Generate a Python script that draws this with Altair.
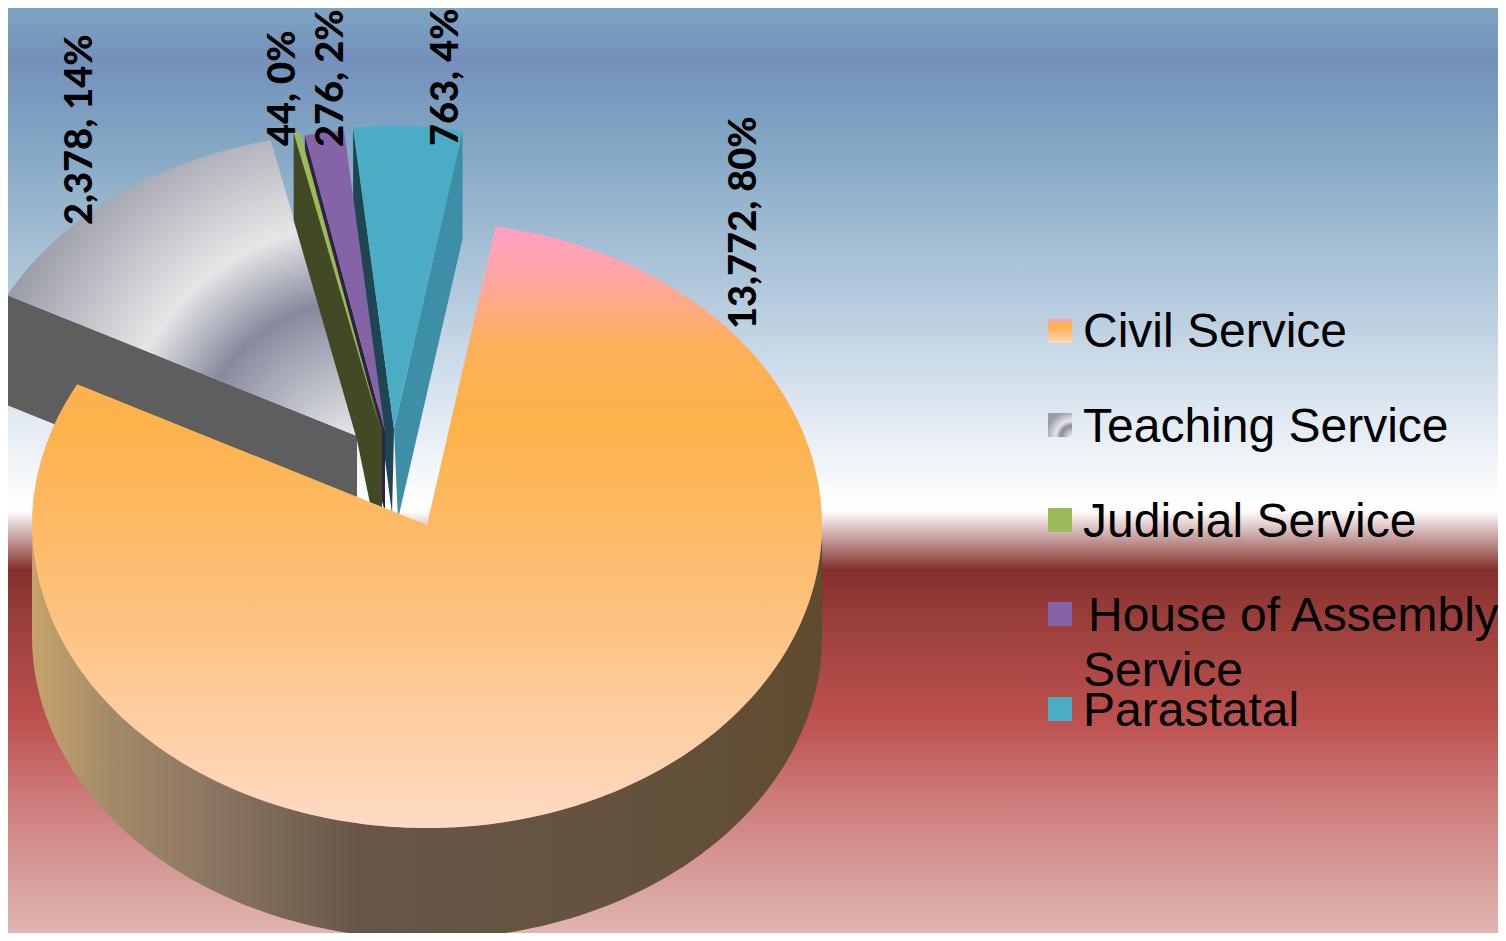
import math
import altair as alt
import pandas as pd

# ---- values ----
categories = ["Civil Service", "Teaching Service", "Judicial Service", "House of Assembly Service", "Parastatal"]
values = [13772, 2378, 44, 276, 763]
value_labels = ["13,772, 80%", "2,378, 14%", "44, 0%", "276, 2%", "763, 4%"]

# ---- layout (reference pixels) ----
M = 8
X1, Y1 = 1498, 933
RX, RY = 395, 303
DEPTH = 111
START = 10.0
centres = [(427, 525), (357, 436), (380, 428), (385, 432), (394, 429)]
label_x = [745, 81, 284, 332, 447]
label_y = [329, 225, 146, 147, 146]
legend_swatch_y = [331, 425, 520, 614, 709]
legend_lines = [("Civil Service", 1083, 347), ("Teaching Service", 1083, 442), ("Judicial Service", 1083, 537),
                ("House of Assembly", 1088, 631), ("Service", 1083, 686), ("Parastatal", 1083, 726)]

X = alt.X("x:Q", scale=alt.Scale(domain=[M, X1], range=[0, X1 - M]), axis=None)
Y = alt.Y("y:Q", scale=alt.Scale(domain=[M, Y1], range=[0, Y1 - M]), axis=None)


def lin(stops, vertical=True):
    return alt.LinearGradient(
        gradient="linear", x1=0, y1=0, x2=0 if vertical else 1, y2=1 if vertical else 0,
        stops=[alt.GradientStop(offset=o, color=c) for o, c in stops])


def radial(cx, cy, r, stops):
    return alt.RadialGradient(
        gradient="radial", x1=cx, y1=cy, r1=0, x2=cx, y2=cy, r2=r,
        stops=[alt.GradientStop(offset=o, color=c) for o, c in stops])


def on_rim(c, deg, drop=0):
    a = math.radians(deg)
    return (c[0] + RX * math.sin(a), c[1] - RY * math.cos(a) + drop)


def arc(c, a0, a1, drop=0):
    n = max(2, int(abs(a1 - a0)) + 2)
    return [on_rim(c, a0 + (a1 - a0) * i / (n - 1), drop) for i in range(n)]


def poly(points, fill):
    df = pd.DataFrame([{"x": p[0], "y": p[1], "i": i} for i, p in enumerate(points)])
    return alt.Chart(df).mark_line(fill=fill, strokeWidth=0, interpolate="linear").encode(
        x=X, y=Y, order=alt.Order("i:Q"))


total = sum(values)
angles = [START]
for v in values:
    angles.append(angles[-1] + v / total * 360)
a = angles

bg_stops = [(8, "#7ea5c2"), (60, "#7490bb"), (130, "#7fa3c2"), (300, "#b5cbdd"), (400, "#dbe5ef"),
            (505, "#ffffff"), (512, "#fdfbfb"), (570, "#832f2c"), (620, "#9a3f3b"), (720, "#bd514f"),
            (800, "#cd7c7a"), (933, "#e0b5b2")]
bg = alt.Chart(alt.Data(values=[{"a": 1}])).mark_rect(
    fill=lin([((y - M) / (Y1 - M), c) for y, c in bg_stops])
).encode(x=alt.value(0), x2=alt.value(X1 - M), y=alt.value(0), y2=alt.value(Y1 - M))

civil_stops = [(0, "#ff9fc6"), (0.09, "#ffa6a0"), (0.2, "#fdb058"), (0.33, "#fdb24a"),
               (0.62, "#fdc07a"), (1, "#ffdac4")]
teach_stops = [(0, "#f8f8f8"), (0.42, "#868a9c"), (0.62, "#e6e6e8"), (1, "#9a9ca8")]

layers = [bg]

# Teaching Service
c = centres[1]
layers.append(poly([on_rim(c, a[1]), on_rim(c, a[1], DEPTH - 1), (c[0], c[1] + 110), c], "#5e5e5e"))
layers.append(poly([c] + arc(c, a[1], a[2]), radial(1.0, 1.0, 1.1, teach_stops)))

# Parastatal
c = centres[4]
layers.append(poly([on_rim(c, a[4]), on_rim(c, a[4], 80), (c[0] - 2, c[1] + 85), c], "#1e4552"))
layers.append(poly([on_rim(c, a[5] - 360), on_rim(c, a[5] - 360, 108), (c[0] + 4, c[1] + 90), c], "#3d8fa8"))
layers.append(poly([c] + arc(c, a[4], a[5]), "#4bacc6"))

# House of Assembly Service
c = centres[3]
layers.append(poly([on_rim(c, a[3]), on_rim(c, a[3], 80), (c[0], c[1] + 80), c], "#2e2340"))
layers.append(poly([c] + arc(c, a[3], a[4]), "#8464a6"))

# Judicial Service
c = centres[2]
layers.append(poly([on_rim(c, a[2]), on_rim(c, a[2], 88), (357, 440), (c[0] - 8, c[1] + 85),
                    (c[0] + 2, c[1] + 85), (c[0] + 2, c[1])], "#414a24"))
layers.append(poly([c] + arc(c, a[2], a[3]), "#9bbb59"))

# Civil Service
c = centres[0]
layers.append(poly(arc(c, 90, 270) + arc(c, 270, 90, DEPTH),
                   lin([(0, "#c6a36c"), (0.1, "#a48a69"), (0.22, "#8c7762"), (0.42, "#675648"),
                         (0.7, "#655340"), (1, "#5f4c2f")], vertical=False)))
layers.append(poly([c] + arc(c, a[0], a[1]), lin(civil_stops)))

# Value labels
labels_df = pd.DataFrame({"x": label_x, "y": label_y, "t": value_labels})
layers.append(alt.Chart(labels_df).mark_text(
    angle=270, align="left", baseline="middle", font="Lato", fontWeight=900, fontSize=38, color="black"
).encode(x=X, y=Y, text="t:N"))

# Legend swatches
swatch_fills = [lin(civil_stops), radial(1.0, 1.0, 1.1, teach_stops), "#9bbb59", "#8464a6", "#4bacc6"]
for sy, f in zip(legend_swatch_y, swatch_fills):
    layers.append(alt.Chart(pd.DataFrame({"x": [1060], "y": [sy]})).mark_square(
        fill=f, size=576, opacity=1, strokeWidth=0).encode(x=X, y=Y))

legend_df = pd.DataFrame(legend_lines, columns=["t", "x", "y"])
layers.append(alt.Chart(legend_df).mark_text(
    align="left", baseline="alphabetic", font="Liberation Sans", fontSize=48, color="black"
).encode(x=X, y=Y, text="t:N"))

chart = alt.layer(*layers).properties(
    width=X1 - M, height=Y1 - M, padding=0, autosize=alt.AutoSizeParams(type="none")
).configure_view(stroke=None)

chart.save("out.html", embed_options={"renderer": "svg", "actions": False})
